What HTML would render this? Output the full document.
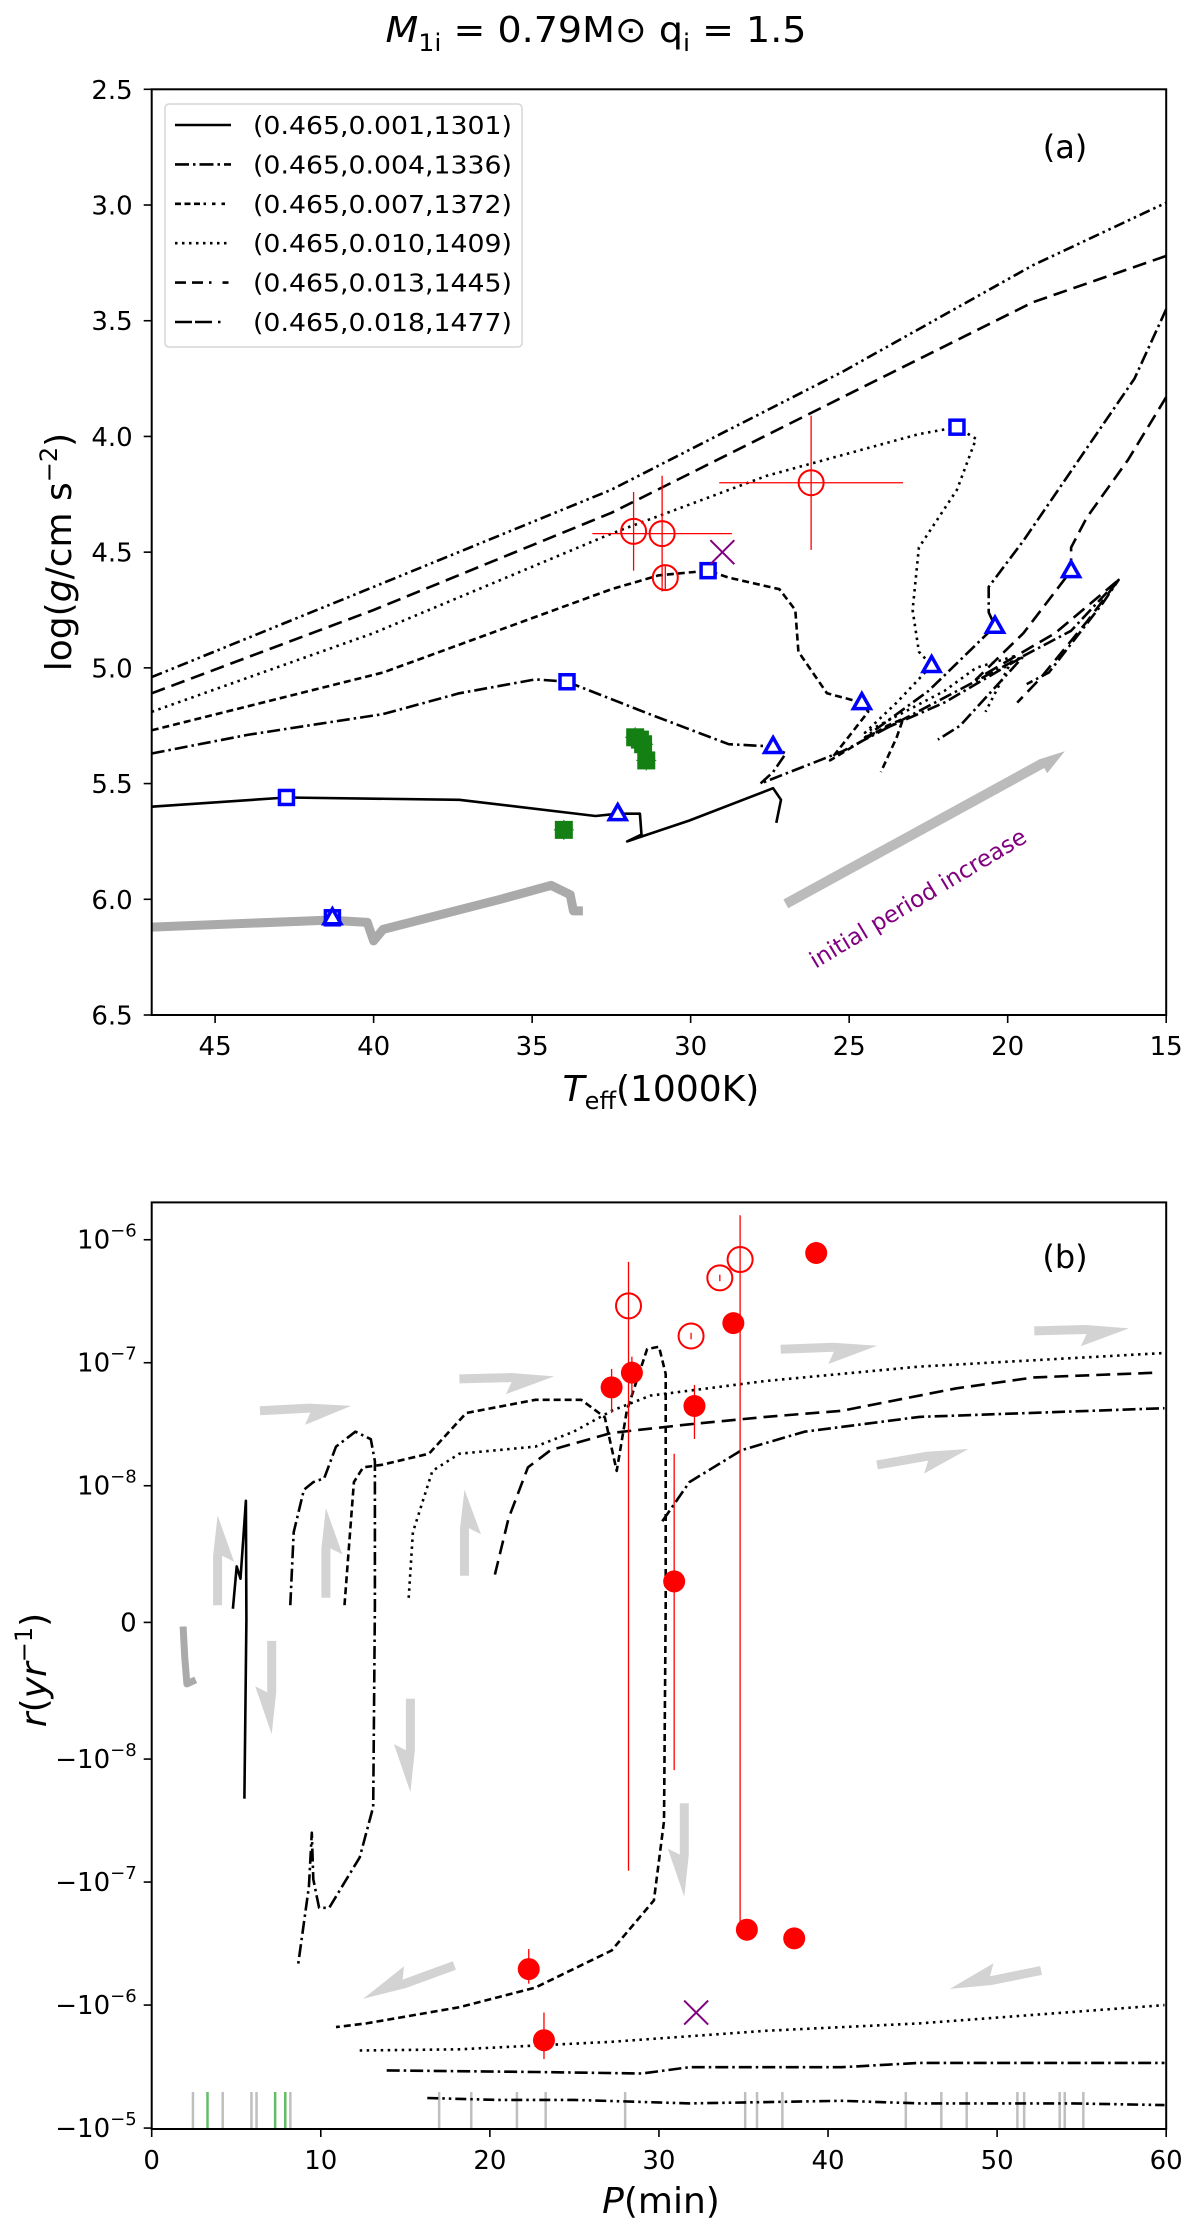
<!DOCTYPE html>
<html><head><meta charset="utf-8"><style>
html,body{margin:0;padding:0;background:#fff}
svg{display:block}
text{font-family:"DejaVu Sans","Liberation Sans",sans-serif;fill:#000}
</style></head><body>
<svg id="fig" xmlns="http://www.w3.org/2000/svg" width="1200" height="2231" viewBox="0 0 1200 2231">
<defs>
<clipPath id="clipA"><rect x="151.7" y="89.3" width="1014.5" height="925.7"/></clipPath>
<clipPath id="clipB"><rect x="151.7" y="1202.4" width="1014.5" height="926.6"/></clipPath>
</defs>
<text x="596" y="42" font-size="36" text-anchor="middle" textLength="421" lengthAdjust="spacingAndGlyphs"><tspan font-style="italic">M</tspan><tspan font-size="24" dy="9">1i</tspan><tspan dy="-9"> = 0.79M</tspan><tspan>⊙</tspan><tspan> q</tspan><tspan font-size="24" dy="9">i</tspan><tspan dy="-9"> = 1.5</tspan></text>
<g id="panelA"></g>
<g id="panelB"></g>
</svg>
<script>
// ---------- Panel (a) data ----------
const aXTicks = [45, 40, 35, 30, 25, 20, 15];
const aYTicks = [2.5, 3.0, 3.5, 4.0, 4.5, 5.0, 5.5, 6.0, 6.5];
const legendLabels = ["(0.465,0.001,1301)","(0.465,0.004,1336)","(0.465,0.007,1372)","(0.465,0.010,1409)","(0.465,0.013,1445)","(0.465,0.018,1477)"];
const a001T = [47,42.75,37.3,33.0,32.3,31.6,31.55,32.0,30.05,27.4,27.15,27.3];
const a001G = [5.60,5.56,5.57,5.64,5.63,5.63,5.72,5.75,5.66,5.52,5.57,5.67];
const aGreyT = [47,41.4,40.2,40.0,39.7,36,34.4,33.8,33.7,33.4];
const aGreyG = [6.12,6.09,6.10,6.18,6.13,6.0,5.94,5.98,6.05,6.05];
const a004T = [47,44,42.1,39.7,37.3,34.9,33.9,31.3,28.8,27.4,27.0,27.4,27.8,25.2,21.6,18.0,16.5,17.0,18.7,19.4];
const a004G = [5.37,5.29,5.25,5.20,5.11,5.05,5.06,5.20,5.33,5.34,5.37,5.45,5.50,5.36,5.10,4.84,4.62,4.72,5.02,5.07];
const a007T = [47,39.7,32.5,31,29.45,28.8,27.2,26.7,26.6,25.7,24.6,24.4,25.2,25.6,23.8,23.3,23.5,24.0];
const a007G = [5.27,5.02,4.66,4.60,4.58,4.61,4.66,4.75,4.93,5.11,5.15,5.19,5.33,5.40,5.25,5.22,5.30,5.45];
const a010T = [47,40,32.5,27.6,22.8,21.6,21.0,21.6,22.8,23.0,22.8,22.4,23.5,24.5,22.0,21.0,19.8,20.7];
const a010G = [5.19,4.85,4.42,4.17,3.99,3.96,4.01,4.23,4.48,4.75,4.93,4.99,5.15,5.28,5.10,5.00,4.95,5.19];
const a013T = [47,40,32.5,25.2,19.2,15];
const a013G = [5.11,4.75,4.33,3.83,3.42,3.22];
const a013bT = [15,16,17.5,19.5,20.6,20.6,20.4,22.5,24.5,22.0,19.5,21.5,22.2];
const a013bG = [3.45,3.75,4.05,4.45,4.65,4.76,4.82,5.10,5.30,5.15,4.95,5.25,5.31];
const a018T = [47,40,32.5,25.2,19.2,15];
const a018G = [5.04,4.65,4.23,3.72,3.26,2.99];
const a018bT = [15,16.2,17.5,18.0,18.0,19.5,21,18.5,16.5,17.5,19.0,19.7];
const a018bG = [3.83,4.10,4.35,4.48,4.58,4.85,5.05,4.85,4.62,4.80,5.05,5.15];
const sqT = [42.75,33.9,29.45,21.6,41.3];
const sqG = [5.56,5.06,4.58,3.96,6.08];
const triT = [41.3,32.3,27.4,24.6,22.4,20.4,18.0];
const triG = [6.08,5.63,5.34,5.15,4.99,4.82,4.58];
const obsT = [31.8,30.9,30.8,26.2];
const obsG = [4.41,4.42,4.61,4.20];
const obsTErr = [0,2.2,0,2.9];
const obsGErr = [0.17,0.25,0.05,0.29];
const grnT = [31.75,31.6,31.5,31.4,34.0];
const grnG = [5.30,5.31,5.33,5.40,5.70];
const xMarkT = [29.0];
const xMarkG = [4.50];

// ---------- Panel (b) data ----------
const bXTicks = [0,10,20,30,40,50,60];
const bYTicks = [1e-6,1e-7,1e-8,0,-1e-8,-1e-7,-1e-6,-1e-5];
const bYTickExp = ["−6","−7","−8","","−8","−7","−6","−5"];
const b001P = [4.8,5.03,5.25,5.57,5.6,5.48];
const b001R = [1.0e-9,4.1e-9,3.2e-9,8.9e-9,2e-10,-2.1e-8];
const bGreyP = [1.86,1.95,2.08,2.6];
const bGreyR = [-3e-10,-2.5e-9,-4.5e-9,-4.2e-9];
const b004P = [8.2,8.4,9.0,9.56,10.2,10.9,12.05,12.96,13.2,13.2,13.1,12.3,10.5,9.9,9.56,9.47,9.3,8.65];
const b004R = [1.26e-9,6.6e-9,9.7e-9,1.07e-8,1.15e-8,2.08e-8,2.75e-8,2.39e-8,1.58e-8,1.26e-9,-2.45e-8,-6.3e-8,-1.62e-7,-1.62e-7,-9.5e-8,-3.97e-8,-1.09e-7,-4.77e-7];
const b007P = [11.4,11.96,12.5,13.6,16.4,18.6,22.7,25.4,26.8,27.5,28.1,29.3,30.0,30.4,30.4,30.3,29.7,27.2,22.7,18.2,12.7,10.9];
const b007R = [1.26e-9,1.07e-8,1.41e-8,1.48e-8,1.82e-8,3.9e-8,5.0e-8,5.0e-8,3.6e-8,1.32e-8,4.07e-8,1.29e-7,1.35e-7,8.1e-8,1.26e-9,-3.2e-8,-1.41e-7,-3.6e-7,-7.2e-7,-1.04e-6,-1.41e-6,-1.51e-6];
const b010P = [15.2,15.45,16.6,18.2,22.7,24.95,27.2,29.5,36.3,45.4,59.9];
const b010R = [1.8e-9,6.6e-9,1.32e-8,1.82e-8,2.08e-8,2.75e-8,4.07e-8,5.4e-8,7.1e-8,9.3e-8,1.2e-7];
const b010lP = [12.3,18.2,27.2,36.3,45.4,59.9];
const b010lR = [-2.34e-6,-2.29e-6,-1.99e-6,-1.62e-6,-1.41e-6,-1.0e-6];
const b013P = [20.3,21.1,22.25,23.6,27.2,31.8,36.3,40.8,47.6,52.2,59.4];
const b013R = [3.5e-9,7.6e-9,1.41e-8,1.95e-8,2.69e-8,3.16e-8,3.63e-8,4.07e-8,6.2e-8,7.6e-8,8.3e-8];
const b013lP = [13.9,22.7,29.0,31.8,40.8,45.4,59.9];
const b013lR = [-3.4e-6,-3.5e-6,-3.6e-6,-3.2e-6,-3.2e-6,-2.95e-6,-2.95e-6];
const b018P = [30.2,31.8,34.9,38.6,45.4,59.9];
const b018R = [7.4e-9,1.07e-8,1.95e-8,2.75e-8,3.63e-8,4.27e-8];
const b018lP = [16.3,20.4,25.0,31.8,40.8,45.4,54.4,59.9];
const b018lR = [-5.7e-6,-5.9e-6,-5.9e-6,-6.3e-6,-6.0e-6,-6.3e-6,-6.3e-6,-6.5e-6];
const fillP = [39.3,34.4,28.4,27.2,32.1,30.9,35.2,38.0,22.3,23.2];
const fillR = [7.8e-7,2.1e-7,8.3e-8,6.3e-8,4.45e-8,3.0e-9,-2.44e-7,-2.87e-7,-5.1e-7,-1.93e-6];
const fillErrHi = [null,null,1.12e-7,8.9e-8,6.6e-8,1.82e-8,null,null,-3.5e-7,-1.15e-6];
const fillErrLo = [null,null,5.4e-8,3.9e-8,2.4e-8,-1.23e-8,null,null,-6.7e-7,-2.75e-6];
const openP = [28.2,31.9,33.6,34.8];
const openR = [2.9e-7,1.65e-7,4.9e-7,6.9e-7];
const openErrHi = [6.6e-7,1.75e-7,5.2e-7,1.58e-6];
const openErrLo = [-8.1e-8,1.55e-7,4.6e-7,-2.45e-7];
const bXP = [32.2];
const bXR = [-1.15e-6];
const rugGreyP = [2.44,4.2,5.9,6.2,8.2,17.0,18.9,21.6,23.3,28.0,35.1,35.8,37.3,44.6,46.7,48.2,51.2,51.6,53.7,54.0,55.1];
const rugGreenP = [3.3,7.3,7.9];
// flow-arrow annotations: [P start, P end, symlog-unit start, symlog-unit end]
const flowP0 = [6.4,18.2,37.2,52.2,42.9,52.6,17.9,3.9,10.3,18.5,7.1,15.3,31.5];
const flowP1 = [11.8,23.8,42.9,57.8,48.3,47.2,12.5,3.9,10.3,18.5,7.1,15.3,31.5];
const flowU0 = [1.72,1.98,2.22,2.37,1.28,-2.83,-2.79,0.14,0.2,0.38,-0.15,-0.62,-1.47];
const flowU1 = [1.76,2.0,2.25,2.39,1.41,-2.98,-3.06,0.87,0.93,1.08,-0.91,-1.38,-2.23];

const NS = "http://www.w3.org/2000/svg";
function mk(parent, tag, attrs, txt){
  const e = document.createElementNS(NS, tag);
  for (const k in attrs) e.setAttribute(k, attrs[k]);
  if (txt !== undefined) e.textContent = txt;
  parent.appendChild(e);
  return e;
}
const AX0=151.7, AX1=1166.2, AY0=89.3, AY1=1015;
const BY0=1202.4, BY1=2129, BZ=1622.4, BU=123;
function xA(t){ return AX0 + (47 - t)/32*(AX1-AX0); }
function yA(g){ return AY0 + (g - 2.5)/4*(AY1-AY0); }
function xB(p){ return AX0 + p/60*(AX1-AX0); }
function symU(r){ const a=Math.abs(r), L=1e-8, c=1/(1-0.1); if (a<=L) return r/L*c; return Math.sign(r)*(c+Math.log10(a/L)); }
function yBu(u){ return BZ - u*BU; }
function yB(r){ return yBu(symU(r)); }

const styles = {
  s001:"none", s004:"13,4,2.5,4", s007:"7,4", s010:"2.5,4.5", s013:"14,7", s018:"11,4,2.5,4,2.5,4"
};

const gA = document.getElementById('panelA');
const gB = document.getElementById('panelB');

function pathFrom(xs, ys, fx, fy){
  return xs.map((v,i)=>(i?'L':'M')+fx(v).toFixed(1)+','+fy(ys[i]).toFixed(1)).join(' ');
}
function drawLine(parent, xs, ys, fx, fy, dash, name, color, w){
  const p = mk(parent,'path',{d:pathFrom(xs,ys,fx,fy),fill:'none',stroke:color||'#000','stroke-width':w||2.6,'stroke-dasharray':dash,'stroke-linejoin':'round'});
  
  
  return p;
}
function arrowPoly(parent, x1,y1,x2,y2, sw, hw, hl, color, name){
  const dx=x2-x1, dy=y2-y1, L=Math.hypot(dx,dy), ux=dx/L, uy=dy/L, nx=-uy, ny=ux;
  const bx=x2-ux*hl, by=y2-uy*hl;
  const pts=[[x1+nx*sw/2,y1+ny*sw/2],[bx+nx*sw/2,by+ny*sw/2],[bx+nx*hw/2,by+ny*hw/2],[x2,y2],[bx-nx*sw/2,by-ny*sw/2],[x1-nx*sw/2,y1-ny*sw/2]];
  const p = mk(parent,'polygon',{points:pts.map(q=>q[0].toFixed(1)+','+q[1].toFixed(1)).join(' '),fill:color});
  
  
}
function boltArrow(parent, x1,y1,x2,y2, color, name){
  const dx=x2-x1, dy=y2-y1, L=Math.hypot(dx,dy), ux=dx/L, uy=dy/L, nx=-uy, ny=ux;
  const sw=9, hl=L*0.45;
  const bx=x2-ux*hl, by=y2-uy*hl;
  const P=(x,y)=>x.toFixed(1)+','+y.toFixed(1);
  const pts=[P(x1+nx*sw/2,y1+ny*sw/2), P(bx+nx*sw/2,by+ny*sw/2), P(bx-ux*6+nx*(sw/2+12),by-uy*6+ny*(sw/2+12)), P(x2,y2), P(bx-nx*sw/2,by-ny*sw/2), P(x1-nx*sw/2,y1-ny*sw/2)];
  const p = mk(parent,'polygon',{points:pts.join(' '),fill:color});
  
  
}

// ================= PANEL A =================
const cA = mk(gA,'g',{'clip-path':'url(#clipA)'});


drawLine(cA,aGreyT,aGreyG,xA,yA,'none','track-grey-thick','#aaaaaa',9);
drawLine(cA,a001T,a001G,xA,yA,styles.s001,'track-0.001');
drawLine(cA,a004T,a004G,xA,yA,styles.s004,'track-0.004');
drawLine(cA,a007T,a007G,xA,yA,styles.s007,'track-0.007');
drawLine(cA,a010T,a010G,xA,yA,styles.s010,'track-0.010');
drawLine(cA,a013T,a013G,xA,yA,styles.s013,'track-0.013');
drawLine(cA,a013bT,a013bG,xA,yA,styles.s004,'track-0.013-return');
drawLine(cA,a018T,a018G,xA,yA,styles.s018,'track-0.018');
drawLine(cA,a018bT,a018bG,xA,yA,styles.s013,'track-0.018-return');
arrowPoly(cA, xA(27.0), yA(6.02), xA(18.2), yA(5.36), 10, 22, 26, '#bbbbbb', 'period-increase-arrow');
const ptxt = mk(cA,'text',{x:0,y:0,'font-size':23,'text-anchor':'middle',transform:'translate(922,905) rotate(-31)'},'initial period increase');


ptxt.style.fill='#800080';
grnT.forEach((t,i)=>{
  const x=xA(t), y=yA(grnG[i]);
  mk(cA,'line',{x1:x-10,x2:x+10,y1:y,y2:y,stroke:'#008000','stroke-width':1});
  mk(cA,'line',{x1:x,x2:x,y1:y-10,y2:y+10,stroke:'#008000','stroke-width':1});
  const r=mk(cA,'rect',{x:x-9,y:y-9,width:18,height:18,fill:'#148014'});
  
  
});
sqT.forEach((t,i)=>{
  const r=mk(cA,'rect',{x:xA(t)-7,y:yA(sqG[i])-7,width:14,height:14,fill:'#fff',stroke:'#0000ff','stroke-width':3.5});
  
  
});
triT.forEach((t,i)=>{
  const x=xA(t), y=yA(triG[i]);
  const r=mk(cA,'polygon',{points:`${x},${y-9} ${x+8.5},${y+6} ${x-8.5},${y+6}`,fill:'#fff',stroke:'#0000ff','stroke-width':3.5,'stroke-linejoin':'miter'});
  
  
});
obsT.forEach((t,i)=>{
  const x=xA(t), y=yA(obsG[i]);
  if (obsTErr[i]>0) mk(cA,'line',{x1:xA(t+obsTErr[i]),x2:xA(t-obsTErr[i]),y1:y,y2:y,stroke:'#ff0000','stroke-width':1.3});
  mk(cA,'line',{x1:x,x2:x,y1:yA(obsG[i]-obsGErr[i]),y2:yA(obsG[i]+obsGErr[i]),stroke:'#ff0000','stroke-width':1.3});
  const c=mk(cA,'circle',{cx:x,cy:y,r:12.5,fill:'none',stroke:'#ff0000','stroke-width':2});
  
  
});
xMarkT.forEach((t,i)=>{
  const x=xA(t), y=yA(xMarkG[i]);
  const g=mk(cA,'path',{d:`M${x-12},${y-12}L${x+12},${y+12}M${x-12},${y+12}L${x+12},${y-12}`,stroke:'#800080','stroke-width':2,fill:'none'});
  
  
});
const fA=mk(gA,'rect',{x:AX0,y:AY0,width:AX1-AX0,height:AY1-AY0,fill:'none',stroke:'#000','stroke-width':2});


aXTicks.forEach(t=>{
  const x=xA(t);
  mk(gA,'line',{x1:x,x2:x,y1:AY1,y2:AY1+8,stroke:'#000','stroke-width':1.6});
  const tx=mk(gA,'text',{x:x,y:AY1+40,'font-size':26,'text-anchor':'middle'},String(t));
  
  
});
aYTicks.forEach(g=>{
  const y=yA(g);
  mk(gA,'line',{x1:AX0-8,x2:AX0,y1:y,y2:y,stroke:'#000','stroke-width':1.6});
  const tx=mk(gA,'text',{x:AX0-19,y:y+9.5,'font-size':26,'text-anchor':'end'},g.toFixed(1));
  
  
});
const xtA=mk(gA,'text',{x:661,y:1101,'font-size':36,'text-anchor':'middle'});


xtA.innerHTML='<tspan font-style="italic">T</tspan><tspan font-size="24" dy="8">eff</tspan><tspan dy="-8">(1000K)</tspan>';
const ytA=mk(gA,'text',{x:0,y:0,'font-size':36,'text-anchor':'middle',transform:'translate(71,552) rotate(-90)'});


ytA.innerHTML='log(<tspan font-style="italic">g</tspan>/cm s<tspan font-size="24" dy="-14">−2</tspan><tspan dy="14">)</tspan>';
const la=mk(gA,'text',{x:1065,y:158,'font-size':32,'text-anchor':'middle'},'(a)');


const lg=mk(gA,'g',{});


mk(lg,'rect',{x:165,y:104,width:357,height:243,rx:4,fill:'#fff','fill-opacity':0.85,stroke:'#d6d6d6','stroke-width':1.5});
const legDash=[styles.s001,"14,4,2.5,4","6,3.5,6,3.5,6,3.5,2.5","2.5,4.5","11,6,11,6,2.5","17,3,17,6,2.5"];
legendLabels.forEach((lab,i)=>{
  const y=125+i*39.4;
  const ln=mk(lg,'line',{x1:175,x2:231,y1:y,y2:y,stroke:'#000','stroke-width':2.6,'stroke-dasharray':legDash[i]});
  
  
  const tx=mk(lg,'text',{x:253,y:y+9,'font-size':25,textLength:259,lengthAdjust:'spacingAndGlyphs'},lab);
  
  
});

// ================= PANEL B =================
const cB = mk(gB,'g',{'clip-path':'url(#clipB)'});


rugGreyP.forEach(p=>{
  const l=mk(cB,'line',{x1:xB(p),x2:xB(p),y1:BY1-37,y2:BY1,stroke:'#bfbfbf','stroke-width':2.5});
  
  
});
rugGreenP.forEach(p=>{
  const l=mk(cB,'line',{x1:xB(p),x2:xB(p),y1:BY1-37,y2:BY1,stroke:'#66bb66','stroke-width':2.5});
  
  
});
flowP0.forEach((p,i)=>{
  boltArrow(cB, xB(p), yBu(flowU0[i]), xB(flowP1[i]), yBu(flowU1[i]), '#d3d3d3', 'flow-arrow');
});
drawLine(cB,bGreyP,bGreyR,xB,yB,'none','track-grey-thick-b','#aaaaaa',7);
drawLine(cB,b001P,b001R,xB,yB,styles.s001,'track-0.001-b');
drawLine(cB,b004P,b004R,xB,yB,styles.s004,'track-0.004-b');
drawLine(cB,b007P,b007R,xB,yB,styles.s007,'track-0.007-b');
drawLine(cB,b010P,b010R,xB,yB,styles.s010,'track-0.010-b');
drawLine(cB,b010lP,b010lR,xB,yB,styles.s010,'track-0.010-b-negative');
drawLine(cB,b013P,b013R,xB,yB,styles.s013,'track-0.013-b');
drawLine(cB,b013lP,b013lR,xB,yB,styles.s004,'track-0.013-b-negative');
drawLine(cB,b018P,b018R,xB,yB,styles.s004,'track-0.018-b');
drawLine(cB,b018lP,b018lR,xB,yB,styles.s018,'track-0.018-b-negative');
openP.forEach((p,i)=>{
  const x=xB(p);
  mk(cB,'line',{x1:x,x2:x,y1:yB(openErrHi[i]),y2:yB(openErrLo[i]),stroke:'#ff0000','stroke-width':1.3});
  const c=mk(cB,'circle',{cx:x,cy:yB(openR[i]),r:12.5,fill:'none',stroke:'#ff0000','stroke-width':2});
  
  
});
fillP.forEach((p,i)=>{
  const x=xB(p);
  if (fillErrHi[i]!==null) mk(cB,'line',{x1:x,x2:x,y1:yB(fillErrHi[i]),y2:yB(fillErrLo[i]),stroke:'#ff0000','stroke-width':1.3});
  const c=mk(cB,'circle',{cx:x,cy:yB(fillR[i]),r:11,fill:'#ff0000'});
  
  
});
bXP.forEach((p,i)=>{
  const x=xB(p), y=yB(bXR[i]);
  const g=mk(cB,'path',{d:`M${x-12},${y-12}L${x+12},${y+12}M${x-12},${y+12}L${x+12},${y-12}`,stroke:'#800080','stroke-width':2,fill:'none'});
  
  
});
const fB=mk(gB,'rect',{x:AX0,y:BY0,width:AX1-AX0,height:BY1-BY0,fill:'none',stroke:'#000','stroke-width':2});


bXTicks.forEach(p=>{
  const x=xB(p);
  mk(gB,'line',{x1:x,x2:x,y1:BY1,y2:BY1+8,stroke:'#000','stroke-width':1.6});
  const tx=mk(gB,'text',{x:x,y:BY1+40,'font-size':26,'text-anchor':'middle'},String(p));
  
  
});
bYTicks.forEach((v,i)=>{
  const y=yB(v);
  mk(gB,'line',{x1:AX0-8,x2:AX0,y1:y,y2:y,stroke:'#000','stroke-width':1.6});
  const tx=mk(gB,'text',{x:AX0-15,y:y+9,'font-size':26,'text-anchor':'end'});
  
  
  if (v===0) tx.textContent='0';
  else tx.innerHTML=(v<0?'−':'')+'10<tspan font-size="18" dy="-12">'+bYTickExp[i]+'</tspan>';
});
const xtB=mk(gB,'text',{x:661,y:2213,'font-size':36,'text-anchor':'middle'});


xtB.innerHTML='<tspan font-style="italic">P</tspan>(min)';
const ytB=mk(gB,'text',{x:0,y:0,'font-size':36,'text-anchor':'middle',transform:'translate(46,1670) rotate(-90)'});


ytB.innerHTML='<tspan font-style="italic">r</tspan>(<tspan font-style="italic">yr</tspan><tspan font-size="24" dy="-14">−1</tspan><tspan dy="14">)</tspan>';
const lb=mk(gB,'text',{x:1065,y:1268,'font-size':32,'text-anchor':'middle'},'(b)');


</script>
</body></html>
